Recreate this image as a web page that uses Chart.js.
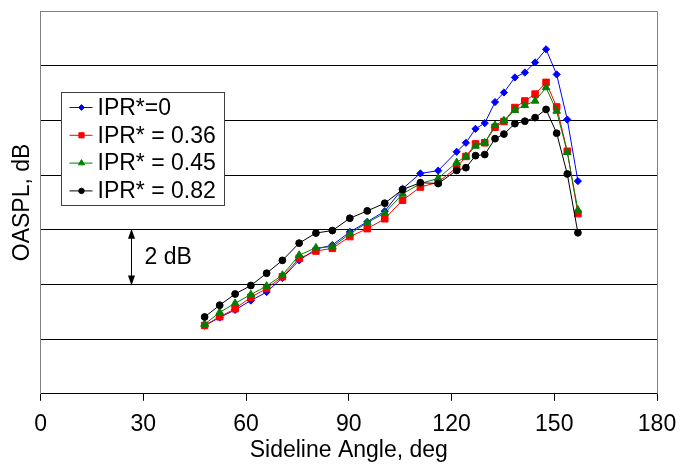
<!DOCTYPE html>
<html>
<head>
<meta charset="utf-8">
<script src="https://cdn.jsdelivr.net/npm/chart.js@4"></script>
<style>
    html, body { margin: 0; padding: 0; background: #fff; }
    #wrap { width: 680px; height: 465px; }
</style>
</head>
<body>
<div id="wrap"><canvas id="oasplChart"></canvas></div>
<script>
// sideline angle, deg
const angles = [47.9, 52.3, 56.8, 61.4, 66.0, 70.6, 75.5, 80.4, 85.2, 90.3, 95.4, 100.5, 105.7, 110.9,
    116.1, 121.5, 124.2, 127.0, 129.7, 132.7, 135.3, 138.5, 141.4, 144.4, 147.6, 150.7, 153.8, 156.9];

// OASPL, relative dB (axis has no absolute labels, gridlines every 2 dB)
const oasplIpr0 = [2.49, 2.79, 3.07, 3.41, 3.72, 4.24, 4.88, 5.29, 5.44, 5.92, 6.29, 6.68, 7.50, 8.06,
    8.16, 8.85, 9.18, 9.69, 9.90, 10.67, 11.02, 11.57, 11.75, 12.12, 12.60, 11.68, 10.03, 7.78];
const oasplIpr036 = [2.50, 2.82, 3.11, 3.53, 3.85, 4.28, 4.95, 5.22, 5.32, 5.75, 6.04, 6.40, 7.08, 7.56,
    7.74, 8.27, 8.68, 9.14, 9.18, 9.75, 9.96, 10.47, 10.71, 10.96, 11.39, 10.49, 8.87, 6.59];
const oasplIpr045 = [2.54, 2.98, 3.31, 3.63, 3.94, 4.34, 5.07, 5.34, 5.38, 5.85, 6.26, 6.61, 7.31, 7.69,
    7.88, 8.46, 8.68, 9.06, 9.18, 9.82, 9.99, 10.37, 10.55, 10.71, 11.20, 10.34, 8.83, 6.72];
const oasplIpr082 = [2.81, 3.24, 3.65, 3.96, 4.41, 4.88, 5.51, 5.88, 5.97, 6.42, 6.69, 6.97, 7.47, 7.72,
    7.69, 8.17, 8.27, 8.71, 8.75, 9.33, 9.50, 9.88, 9.97, 10.10, 10.40, 9.53, 8.04, 5.89];

const seriesLabels = ['IPR*=0', 'IPR* = 0.36', 'IPR* = 0.45', 'IPR* = 0.82'];
const xTickValues = [0, 30, 60, 90, 120, 150, 180];
const scaleBarLabel = '2 dB';

const FONT = "'Liberation Sans', Arial, sans-serif";
Chart.defaults.font.family = FONT;
Chart.defaults.font.size = 23;
Chart.defaults.color = '#000';

function toPoints(values) {
    return angles.map((a, i) => ({ x: a, y: values[i] }));
}

function makeDataset(label, values, color, style, radius, order) {
    return {
        label: label,
        data: toPoints(values),
        borderColor: color,
        backgroundColor: color,
        borderWidth: 1,
        pointStyle: style,
        pointRadius: radius,
        pointBorderWidth: 1,
        pointBorderColor: color,
        pointBackgroundColor: color,
        tension: 0,
        order: order
    };
}

const notesPlugin = {
    id: 'notes',
    beforeDatasetsDraw(chart) {
        const ctx = chart.ctx;
        const area = chart.chartArea;
        ctx.save();
        ctx.strokeStyle = '#808080';
        ctx.lineWidth = 1;
        ctx.beginPath();
        ctx.moveTo(area.left, area.top + 0.5);
        ctx.lineTo(area.right + 0.5, area.top + 0.5);
        ctx.lineTo(area.right + 0.5, area.bottom);
        ctx.stroke();
        ctx.restore();
    },
    afterDatasetsDraw(chart) {
        const ctx = chart.ctx;
        const area = chart.chartArea;
        const xs = chart.scales.x;
        const ys = chart.scales.y;

        // 2 dB scale bar
        const ax = Math.round(xs.getPixelForValue(26.5)) + 0.5;
        const yTop = ys.getPixelForValue(6) - 1;
        const yBot = ys.getPixelForValue(4) + 1;
        ctx.save();
        ctx.strokeStyle = '#000';
        ctx.fillStyle = '#000';
        ctx.lineWidth = 1;
        ctx.beginPath();
        ctx.moveTo(ax, yTop + 6);
        ctx.lineTo(ax, yBot - 6);
        ctx.stroke();
        ctx.beginPath();
        ctx.moveTo(ax, yTop);
        ctx.lineTo(ax - 3.5, yTop + 10);
        ctx.lineTo(ax + 3.5, yTop + 10);
        ctx.closePath();
        ctx.fill();
        ctx.beginPath();
        ctx.moveTo(ax, yBot);
        ctx.lineTo(ax - 3.5, yBot - 10);
        ctx.lineTo(ax + 3.5, yBot - 10);
        ctx.closePath();
        ctx.fill();
        ctx.font = '23px ' + FONT;
        ctx.textBaseline = 'middle';
        ctx.textAlign = 'left';
        ctx.fillText(scaleBarLabel, ax + 13, (yTop + yBot) / 2 + 1);

        // legend box
        const bx = Math.round(area.left + 20) + 0.5;
        const by = Math.round(area.top + 81) + 0.5;
        const bw = 163;
        const bh = 113;
        ctx.fillStyle = '#fff';
        ctx.fillRect(bx, by, bw, bh);
        ctx.strokeStyle = '#404040';
        ctx.strokeRect(bx, by, bw, bh);

        chart.data.datasets.forEach((ds, i) => {
            const cy = by + 15 + i * 27.8;
            ctx.strokeStyle = ds.borderColor;
            ctx.fillStyle = ds.backgroundColor;
            ctx.lineWidth = 1;
            ctx.beginPath();
            ctx.moveTo(bx + 8, cy);
            ctx.lineTo(bx + 31, cy);
            ctx.stroke();
            Chart.helpers.drawPoint(ctx, {
                pointStyle: ds.pointStyle,
                radius: ds.pointRadius * 0.8,
                borderWidth: 1
            }, bx + 20, cy);
            ctx.fillStyle = '#000';
            ctx.fillText(ds.label, bx + 36, cy + 1);
        });
        ctx.restore();
    }
};

new Chart(document.getElementById('oasplChart').getContext('2d'), {
    type: 'line',
    data: {
        datasets: [
            makeDataset(seriesLabels[0], oasplIpr0, '#0000FF', 'rectRot', 3.6, 3),
            makeDataset(seriesLabels[1], oasplIpr036, '#FF0000', 'rect', 4.6, 2),
            makeDataset(seriesLabels[2], oasplIpr045, '#008000', 'triangle', 4.4, 1),
            makeDataset(seriesLabels[3], oasplIpr082, '#000000', 'circle', 3.4, 0)
        ]
    },
    options: {
        responsive: true,
        maintainAspectRatio: false,
        animation: false,
        layout: { padding: { left: 9, right: 23, top: 11, bottom: 1 } },
        plugins: {
            legend: { display: false },
            tooltip: { enabled: false }
        },
        scales: {
            x: {
                type: 'linear',
                min: 0,
                max: 180,
                afterBuildTicks: (axis) => { axis.ticks = xTickValues.map(v => ({ value: v })); },
                afterFit: (axis) => { axis.paddingRight = 0; axis.paddingLeft = 0; },
                ticks: { padding: 10, maxRotation: 0 },
                grid: { drawOnChartArea: false, drawTicks: true, tickLength: 7, color: '#000' },
                border: { display: true, color: '#000' },
                title: { display: true, text: 'Sideline Angle, deg', padding: { top: -12, bottom: 0 } }
            },
            y: {
                min: 0,
                max: 14,
                ticks: { display: false, stepSize: 2 },
                grid: {
                    drawTicks: false,
                    color: (c) => (c.tick && c.tick.value === 14 ? '#808080' : '#000')
                },
                border: { display: true, color: '#808080' },
                title: { display: true, text: 'OASPL, dB', padding: { top: 0, bottom: 4 } }
            }
        }
    },
    plugins: [notesPlugin]
});
</script>
</body>
</html>
